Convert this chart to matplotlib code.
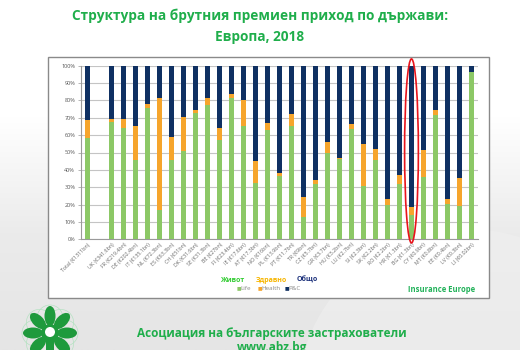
import numpy as np
import matplotlib
matplotlib.use('Agg')
import matplotlib.pyplot as plt
import matplotlib.patches as patches

plt.rcParams['font.family'] = ['Open Sans', 'DejaVu Sans']

countries = ['Total (€1311bn)', '', 'UK (€341.6bn)', 'FR (€219.4bn)', 'DE (€202.4bn)',
             'IT (€135.1bn)', 'NL (€72.3bn)', 'ES (€63.3bn)', 'CH (€51bn)', 'DK (€31.6bn)',
             'SE (€31.3bn)', 'BE (€27bn)', 'FI (€23.4bn)', 'IE (€17.6bn)', 'AT (€17.3bn)',
             'NO (€16bn)', 'PL (€13.9bn)', 'PT (€11.7bn)', 'TR (€9bn)', 'CZ (€5.7bn)',
             'GR (€3.7bn)', 'HU (€3.2bn)', 'LU (€2.7bn)', 'SI (€2.3bn)', 'SK (€2.2bn)',
             'RO (€2.2bn)', 'HR (€1.3bn)', 'BG (€1.3bn)', 'CY (€0.9bn)', 'MT (€0.8bn)',
             'EE (€0.4bn)', 'LV (€0.3bn)', 'LI (€0.02bn)']
life = [58.3, 0, 67.4, 63.9, 45.5, 75.4, 16.7, 45.9, 50.8, 72.9, 77.3, 57.4, 81.6, 65.4, 32.6,
        63.0, 36.4, 65.2, 12.8, 31.6, 49.9, 46.4, 63.5, 30.5, 45.5, 19.9, 31.8, 14.0, 36.1, 71.6,
        20.1, 19.4, 96.2]
health = [10.6, 0, 1.9, 5.4, 19.7, 2.3, 64.5, 13.2, 19.6, 1.8, 3.9, 6.7, 2.1, 15.0, 12.5,
          4.0, 1.8, 6.8, 11.5, 2.4, 6.1, 0.4, 2.9, 24.2, 6.3, 3.3, 5.4, 4.8, 15.1, 2.7,
          3.1, 15.9, 0.0]
pc = [100 - l - h for l, h in zip(life, health)]
pc[1] = 0
highlight = 'BG (€1.3bn)'

c_life = '#8cc866'
c_health = '#f6a52c'
c_pc = '#0f3062'
green = '#1fae4b'

fig = plt.figure(figsize=(5.2, 3.5), dpi=100)

# slide background gradient + chart frame
bg = fig.add_axes([0, 0, 1, 1], zorder=-10)
grad = np.linspace(0, 1, 256).reshape(-1, 1)
bg.imshow(grad, aspect='auto', cmap=matplotlib.colors.LinearSegmentedColormap.from_list(
    'bg', ['#e5e5e5', '#ebebeb', '#ffffff', '#ffffff']), extent=[0, 1, 0, 1], origin='lower')
for cx, cy, r in [(0.9, -0.15, 0.55), (0.55, -0.55, 0.5)]:
    bg.add_patch(patches.Ellipse((cx, cy), r * 1.2, r * 1.8, fc='#f0f0f0', ec='none', alpha=0.6))
bg.add_patch(patches.Rectangle((48 / 520, 52 / 350), 441 / 520, 241 / 350,
                               fc='white', ec='#8a8a8a', lw=1.0))
bg.set_xlim(0, 1)
bg.set_ylim(0, 1)
bg.axis('off')

ax = fig.add_axes([80.7 / 520, 110.7 / 350, 397.3 / 520, 173.6 / 350])
ax.patch.set_alpha(0)
x = np.arange(len(countries))
w = 0.42
ax.bar(x, life, w, color=c_life, zorder=3)
ax.bar(x, health, w, bottom=life, color=c_health, zorder=3)
ax.bar(x, pc, w, bottom=np.array(life) + np.array(health), color=c_pc, zorder=3)

ax.set_xlim(-0.6, 32.55)
ax.set_ylim(0, 100)
ax.set_yticks(np.arange(0, 101, 10))
ax.set_yticklabels([f'{v}%' for v in range(0, 101, 10)], fontsize=4, color='#555555')
ax.set_xticks(x)
ax.set_xticklabels(countries, rotation=45, ha='right', rotation_mode='anchor',
                   fontsize=3.8, color='#666666')
ax.tick_params(axis='x', length=0, pad=2)
ax.tick_params(axis='y', length=2, width=0.5, color='#999999', pad=2)
ax.grid(axis='y', color='#c4c4c4', lw=0.8, zorder=0)
for s in ['top', 'right']:
    ax.spines[s].set_visible(False)
for s in ['left', 'bottom']:
    ax.spines[s].set_color('#9a9a9a')
    ax.spines[s].set_linewidth(0.8)

# red ellipse around Bulgaria
bi = countries.index(highlight)
ax.add_patch(patches.Ellipse((bi, 50.9), 1.15, 106, fill=False, ec='#e8141b', lw=1.2,
                             clip_on=False, zorder=5))

# titles
fig.text(0.5, 1 - 16 / 350, 'Структура на брутния премиен приход по държави:', ha='center',
         va='center', fontsize=9.8, fontweight='bold', color=green)
fig.text(0.5, 1 - 37 / 350, 'Европа, 2018', ha='center', va='center', fontsize=9.8,
         fontweight='bold', color=green)

# legend
fig.text(232 / 520, 1 - 280 / 350, 'Живот', ha='center', va='center', fontsize=5,
         fontweight='bold', color='#33cc33')
fig.text(271.5 / 520, 1 - 280 / 350, 'Здравно', ha='center', va='center', fontsize=5,
         fontweight='bold', color='#f7b500')
fig.text(307 / 520, 1 - 280 / 350, 'Общо', ha='center', va='center', fontsize=5,
         fontweight='bold', color='#1a2f7a')
for xx, lab, col in [(237, 'Life', c_life), (258, 'Health', c_health), (285, 'P&C', c_pc)]:
    fig.text(xx / 520, 1 - 288 / 350, '■', ha='left', va='center', fontsize=3.5, color=col)
    fig.text((xx + 3.5) / 520, 1 - 288 / 350, lab, ha='left', va='center', fontsize=4.5,
             color='#8a8a8a')
fig.text(442 / 520, 1 - 290 / 350, 'Insurance Europe', ha='center', va='center', fontsize=5.5,
         fontweight='bold', color='#22b25a')

# footer
fig.text(272 / 520, 1 - 333 / 350, 'Асоциация на българските застрахователи', ha='center',
         va='center', fontsize=8.5, fontweight='bold', color=green)
fig.text(272 / 520, 1 - 347 / 350, 'www.abz.bg', ha='center', va='center', fontsize=8.5,
         fontweight='bold', color=green)

# logo
lg = fig.add_axes([10 / 520, 0, 80 / 520, 52 / 350])
lg.set_xlim(-40, 40)
lg.set_ylim(-17, 35)
lg.set_aspect('equal')
lg.axis('off')
for ang in [90, 45, 135, 0, 180, -45, 225]:
    a = np.deg2rad(ang)
    lg.add_patch(patches.Circle((15 * np.cos(a), 15 * np.sin(a)), 13, fill=False,
                                ec='#b5e2c2', lw=0.5))
for ang in [90, 45, 135, 0, 180, -45, 225]:
    a = np.deg2rad(ang)
    lg.add_patch(patches.Ellipse((17 * np.cos(a), 17 * np.sin(a)), 11, 20, angle=ang - 90,
                                 fc='#1e9a3c', ec='none'))
lg.add_patch(patches.Circle((0, 0), 9, fc='#1e9a3c', ec='none'))
lg.add_patch(patches.Circle((0, 1), 5, fc='white', ec='none'))
lg.add_patch(patches.Rectangle((-4, -17), 8, 12, fc='#1e9a3c', ec='none'))

fig.savefig('out.png', dpi=100)
